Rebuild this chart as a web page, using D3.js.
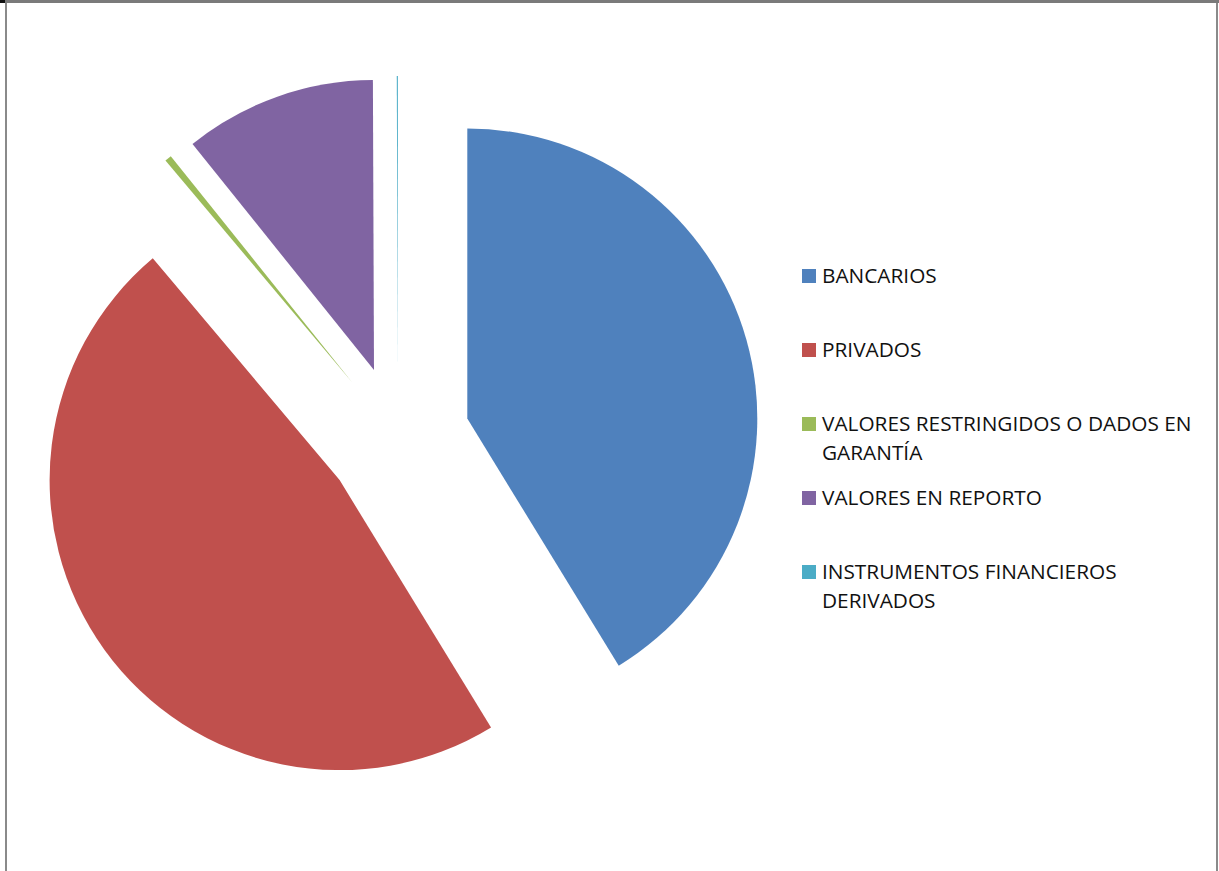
<!DOCTYPE html>
<html>
<head>
<meta charset="utf-8">
<script src="https://cdn.jsdelivr.net/npm/d3@7"></script>
<style>
  body { margin: 0; background: #fff; }
  svg { display: block; }
</style>
</head>
<body>
<script>
// categories and shares (percent)
const categories = ["BANCARIOS", "PRIVADOS", "VALORES RESTRINGIDOS O DADOS EN GARANTÍA", "VALORES EN REPORTO", "INSTRUMENTOS FINANCIEROS DERIVADOS"]
const values = [41.25, 47.6, 0.38, 10.7, 0.06]
const legendLines = [["BANCARIOS"], ["PRIVADOS"], ["VALORES RESTRINGIDOS O DADOS EN", "GARANTÍA"], ["VALORES EN REPORTO"], ["INSTRUMENTOS FINANCIEROS", "DERIVADOS"]]
const colors = ["#4F81BD", "#C0504D", "#9BBB59", "#8064A2", "#4BACC6"]

const width = 1219, height = 871
const cx = 398, cy = 438, radius = 290, explode = 72

const svg = d3.select("body").append("svg")
    .attr("width", width)
    .attr("height", height)

// frame of the chart area
svg.append("rect").attr("x", 0).attr("y", 0).attr("width", width).attr("height", 3).attr("fill", "#7a7a7a")
svg.append("rect").attr("x", 0).attr("y", 0).attr("width", 5).attr("height", 3).attr("fill", "#111")
svg.append("rect").attr("x", 5).attr("y", 3).attr("width", 2).attr("height", height).attr("fill", "#8a8a8a")
svg.append("rect").attr("x", 1216).attr("y", 3).attr("width", 2).attr("height", height).attr("fill", "#8a8a8a")

const data = categories.map((c, i) => ({name: c, value: values[i], color: colors[i]}))

const pie = d3.pie().sort(null).value(d => d.value)
const arc = d3.arc().innerRadius(0).outerRadius(radius)

const g = svg.append("g").attr("transform", "translate(" + cx + "," + cy + ")")

g.selectAll("path")
    .data(pie(data))
    .enter()
    .append("path")
    .attr("d", arc)
    .attr("fill", d => d.data.color)
    .attr("transform", d => {
        const mid = (d.startAngle + d.endAngle) / 2
        return "translate(" + (explode * Math.sin(mid)) + "," + (-explode * Math.cos(mid)) + ")"
    })

// legend
const legend = svg.append("g").attr("font-family", "'Open Sans', sans-serif")
    .attr("font-size", "20.8px")

legendLines.forEach((lines, i) => {
    const base = 283 + i * 74
    legend.append("rect")
        .attr("x", 802).attr("y", base - 14)
        .attr("width", 14).attr("height", 14)
        .attr("fill", colors[i])
    const t = legend.append("text").attr("x", 822).attr("y", base).attr("fill", "#111")
    lines.forEach((l, j) => {
        t.append("tspan").attr("x", 822).attr("y", base + j * 29).text(l)
    })
})
</script>
</body>
</html>
